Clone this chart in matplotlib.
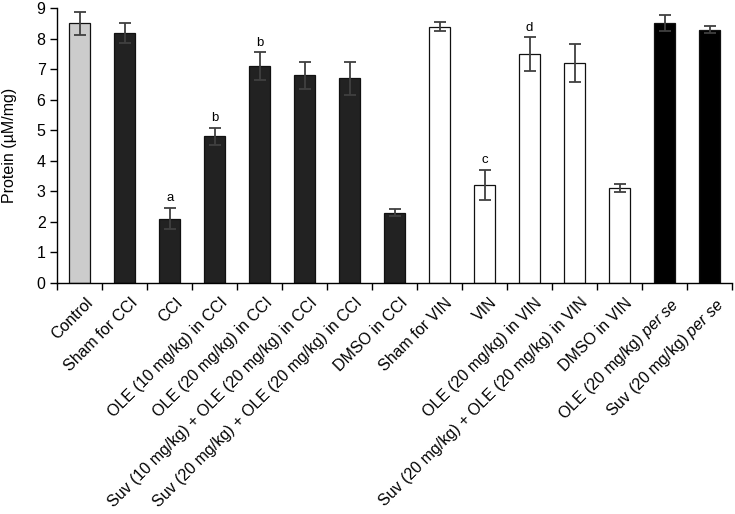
import matplotlib
matplotlib.use("Agg")
import matplotlib.pyplot as plt
import matplotlib.transforms as mtransforms
import numpy as np

plt.rcParams['font.family'] = ['Liberation Sans', 'DejaVu Sans']
plt.rcParams['mathtext.fontset'] = 'custom'
plt.rcParams['mathtext.rm'] = 'Liberation Sans'
plt.rcParams['mathtext.it'] = 'Liberation Sans:italic'

categories = [
    "Control", "Sham for CCI", "CCI", "OLE (10 mg/kg) in CCI", "OLE (20 mg/kg) in CCI",
    "Suv (10 mg/kg) + OLE (20 mg/kg) in CCI", "Suv (20 mg/kg) + OLE (20 mg/kg) in CCI",
    "DMSO in CCI", "Sham for VIN", "VIN", "OLE (20 mg/kg) in VIN",
    "Suv (20 mg/kg) + OLE (20 mg/kg) in VIN", "DMSO in VIN",
    r"OLE (20 mg/kg) $\mathit{per\ se}$", r"Suv (20 mg/kg) $\mathit{per\ se}$",
]
values = [8.5, 8.2, 2.1, 4.8, 7.1, 6.8, 6.7, 2.3, 8.4, 3.2, 7.5, 7.2, 3.1, 8.52, 8.3]
errors = [0.38, 0.33, 0.35, 0.28, 0.45, 0.44, 0.53, 0.11, 0.16, 0.5, 0.55, 0.62, 0.14, 0.26, 0.11]
letters = ["", "", "a", "b", "b", "", "", "", "", "c", "d", "", "", "", ""]
groups = ["control", "ccI", "ccI", "ccI", "ccI", "ccI", "ccI", "ccI",
          "vin", "vin", "vin", "vin", "vin", "perse", "perse"]
group_colors = {"control": "#cccccc", "ccI": "#222222", "vin": "#ffffff", "perse": "#000000"}

fig = plt.figure(figsize=(7.35, 5.14), dpi=100)
ax = fig.add_axes([0.078, 0.45, 0.918, 0.534])

x = np.arange(len(categories))
colors = [group_colors[g] for g in groups]
ax.bar(x, values, width=0.46, color=colors, edgecolor="#111111", linewidth=0.9, zorder=2)
ax.errorbar(x, values, yerr=errors, fmt='none', ecolor="#404040", elinewidth=1.3,
            capsize=4, capthick=1.3, zorder=3)
for xi, v, e, t in zip(x, values, errors, letters):
    if t:
        ax.text(xi, v + e + 0.12, t, ha='center', va='bottom', fontsize=9.5)

ax.set_xlim(-0.5, len(categories) - 0.5)
ax.set_ylim(0, 9)
ax.set_yticks(range(0, 10))
ax.tick_params(axis='y', labelsize=11.5, length=5, width=1, direction='out')
ax.set_xticks(x)
ax.set_xticklabels(categories, rotation=45, ha='right', rotation_mode='anchor', fontsize=11.5)
ax.tick_params(axis='x', which='major', length=0, pad=9)
ax.set_xticks(np.arange(-0.5, len(categories)), minor=True)
ax.tick_params(axis='x', which='minor', length=5, width=1, direction='out')
offset = mtransforms.ScaledTranslation(0.05, 0, fig.dpi_scale_trans)
for lbl in ax.get_xticklabels():
    lbl.set_transform(lbl.get_transform() + offset)
for s in ['top', 'right']:
    ax.spines[s].set_visible(False)
for s in ['left', 'bottom']:
    ax.spines[s].set_linewidth(1)
ax.set_ylabel(u"Protein (\u00b5M/mg)", fontsize=11.5)
ax.yaxis.set_label_coords(-0.06, 0.5)

fig.savefig("out.png", dpi=100)
